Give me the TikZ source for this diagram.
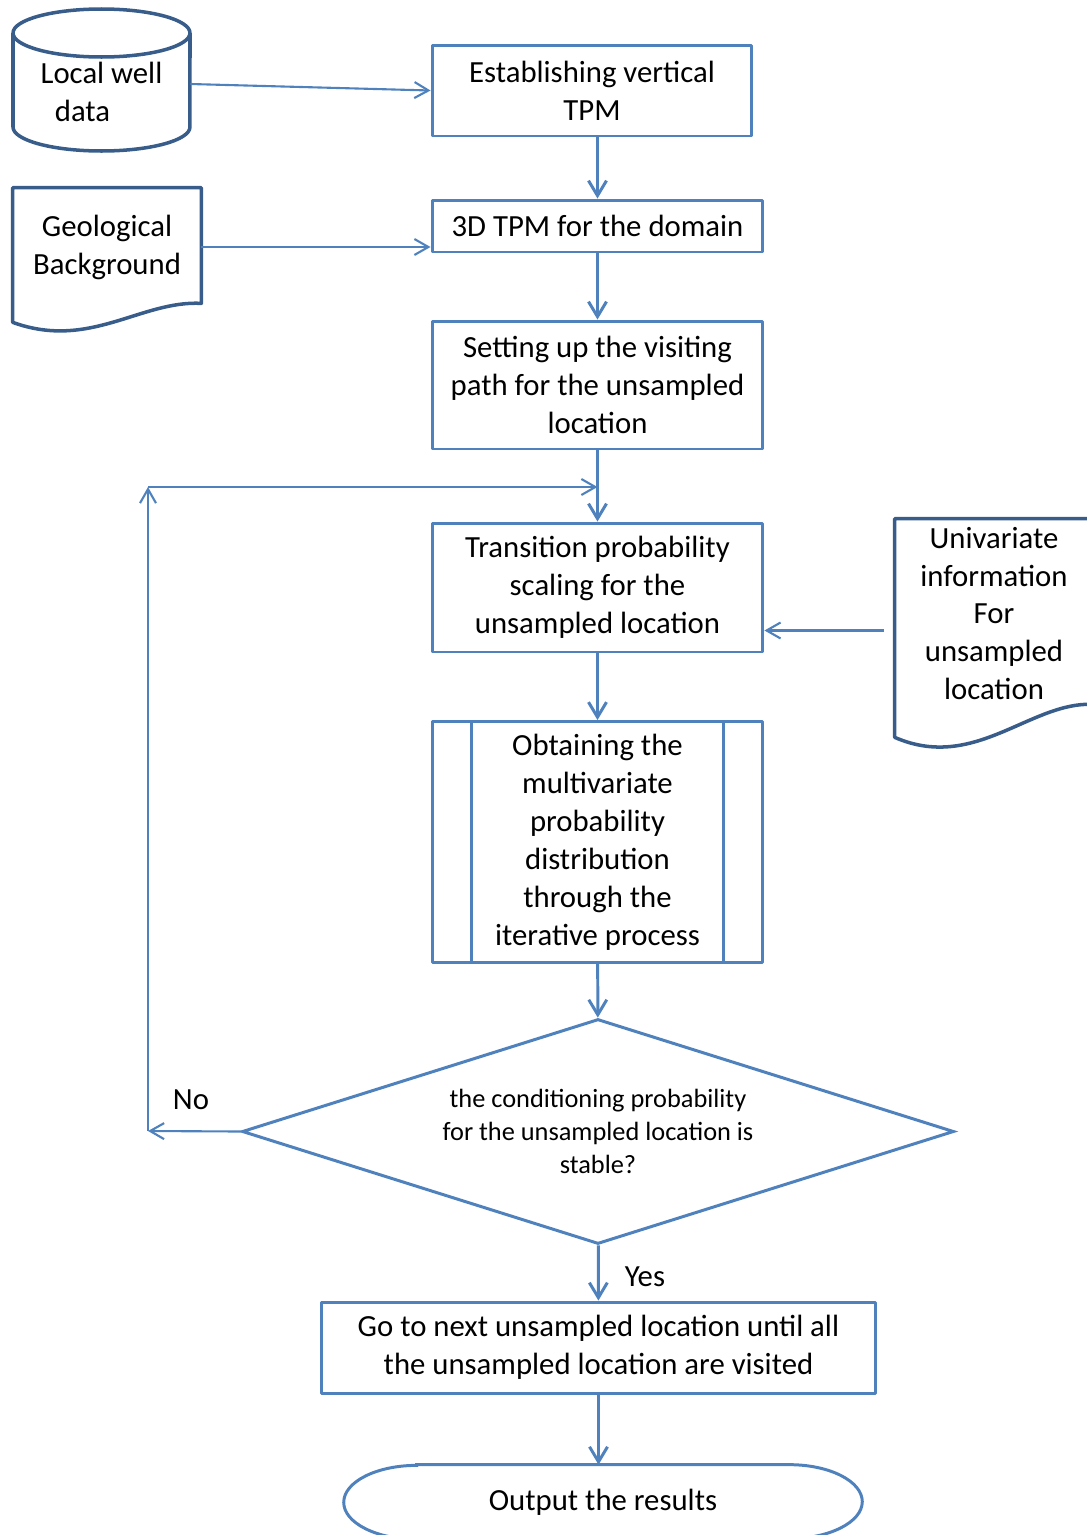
\documentclass[tikz,border=0pt]{standalone}
\usepackage{fontspec}
\setmainfont{Carlito}
\usetikzlibrary{shapes.geometric, arrows.meta, calc}
\definecolor{boxblue}{HTML}{4F81BD}
\definecolor{darkblue}{HTML}{385D8A}

\begin{document}
\begin{tikzpicture}[x=0.02cm, y=-0.02cm,
        every node/.style={font=\fontsize{17.5}{21.6}\selectfont, align=center},
        box/.style={rectangle, draw=boxblue, line width=1.7pt, line join=round, minimum width=6.62cm, inner sep=2pt},
        store/.style={draw=darkblue, line width=2pt, line join=round},
        arr/.style={draw=boxblue, line width=1.7pt, -{Straight Barb[length=0.3cm, width=0.36cm]}},
        thinarr/.style={draw=boxblue, line width=1.2pt, -{Straight Barb[length=0.28cm, width=0.32cm]}}]
        \useasboundingbox (0,0) rectangle (1086,1535);

        % Nodes
        \node[minimum width=3.54cm] (well) at (101.5,92) {Local well\\data\hspace*{0.76cm}};
        \node[box, minimum width=6.4cm, minimum height=1.82cm] (tpm1) at (592,90.5) {Establishing vertical\\TPM};
        \node[box, minimum height=1.04cm] (tpm3d) at (597.5,226) {3D TPM for the domain};
        \node[box, minimum height=2.56cm] (path) at (597.5,385) {Setting up the visiting\\path for the unsampled\\location};
        \node[box, minimum height=2.58cm] (scale) at (597.5,587.5) {Transition probability\\scaling for the\\unsampled location};
        \node[box, minimum height=4.82cm] (iter) at (597.5,842) {Obtaining the\\multivariate\\probability\\distribution\\through the\\iterative process};
        \node[diamond, draw=boxblue, line width=1.7pt, aspect=3.16, inner sep=0pt, minimum width=14.24cm, minimum height=4.5cm, font=\fontsize{15}{18.7}\selectfont] (stable) at (598,1131.5) {the conditioning probability\\for the unsampled location is\\stable?};
        \node[box, minimum width=11.1cm, minimum height=1.82cm] (next) at (598.5,1347.5) {Go to next unsampled location until all\\the unsampled location are visited};
        \node[minimum width=10.36cm, minimum height=1.48cm] (out) at (603,1502) {Output the results};
        \node[minimum width=3.76cm, minimum height=2.36cm] (geo) at (107,247) {Geological\\Background};
        \node[minimum width=3.96cm, minimum height=3.78cm] (uni) at (994,613.5) {Univariate\\information\\For\\unsampled\\location};
        \node (no) at (191,1100) {No};
        \node (yes) at (645,1277) {Yes};
        \coordinate (back) at (148,1131);
        \coordinate (top) at (148,487);

        % Shapes
        \draw[store] ($(well)+(0,-59)$) ellipse[x radius=1.77cm, y radius=0.48cm];
        \draw[store] ($(well)+(-88.5,-59)$) -- ($(well)+(-88.5,35)$) arc[start angle=180, end angle=360, x radius=1.77cm, y radius=0.48cm] -- ($(well)+(88.5,-59)$);
        \draw[store] (geo.north west) -- (geo.north east) -- ($(geo.south east)+(0,-3)$) .. controls ($(geo.south east)+(-61,-6)$) and ($(geo.south west)+(77,44)$) .. ($(geo.south west)+(0,16)$) -- cycle;
        \draw[store] (uni.north west) -- (uni.north east) -- ($(uni.south east)+(0,-4)$) .. controls ($(uni.south east)+(-63,-7)$) and ($(uni.south west)+(80,64)$) .. ($(uni.south west)+(0,29)$) -- cycle;
        \draw[boxblue, line width=1.7pt] ($(iter.north west)+(41,0)$) -- ($(iter.south west)+(41,0)$);
        \draw[boxblue, line width=1.7pt] ($(iter.north east)+(-41,0)$) -- ($(iter.south east)+(-41,0)$);
        \draw[boxblue, line width=1.7pt] ($(out.north west)+(73,0)$) -- ($(out.north east)+(-73,0)$) arc[start angle=90, end angle=-90, x radius=1.46cm, y radius=0.74cm] -- ($(out.south west)+(73,0)$) arc[start angle=270, end angle=90, x radius=1.46cm, y radius=0.74cm] -- cycle;

        % Edges
        \draw[thinarr] ($(well.east)+(0,-8)$) -- (tpm1.west);
        \draw[thinarr] (geo.east) -- (geo.east -| tpm3d.west);
        \draw[arr] (tpm1.south -| tpm3d.north) -- (tpm3d.north);
        \draw[arr] (tpm3d) -- (path);
        \draw[arr] (path) -- (scale);
        \draw[arr] (scale) -- (iter);
        \draw[arr] (iter) -- (stable);
        \draw[arr] (stable) -- (next);
        \draw[arr] (next.south) -- (next.south |- out.north);
        \draw[thinarr] ($(uni.west)+(-11,17)$) coordinate (u0) -- (u0 -| scale.east);

        % Loop back
        \draw[thinarr] (stable.west) -- (back);
        \draw[thinarr] (back) -- (top);
        \draw[thinarr] (top) -- (top -| path.south);
    \end{tikzpicture}
\end{document}
